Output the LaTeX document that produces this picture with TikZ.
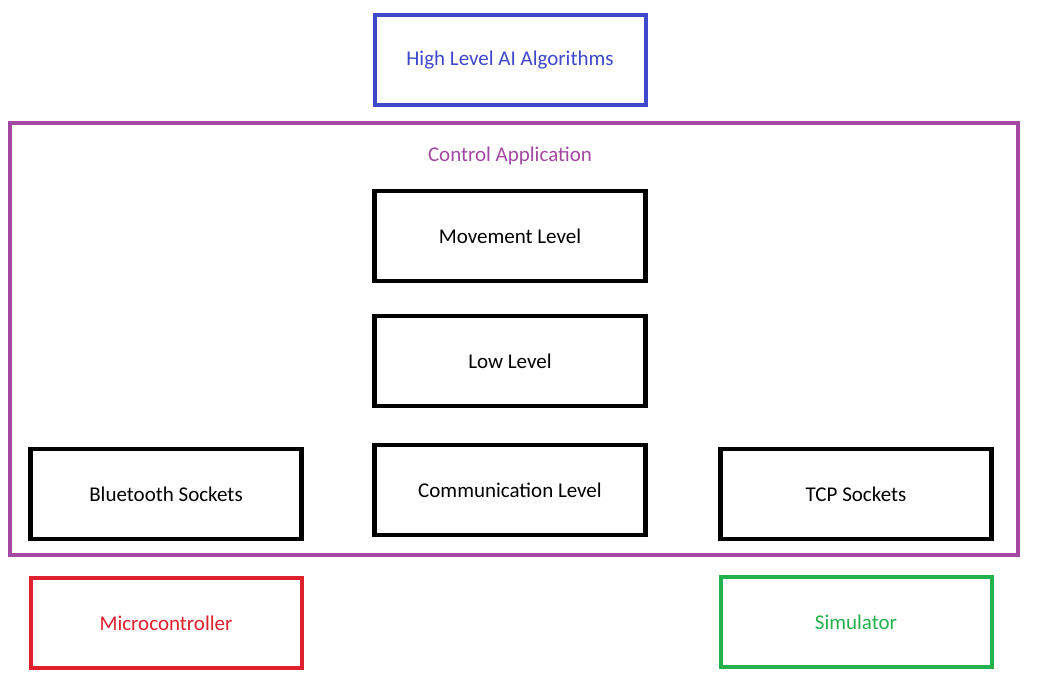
\documentclass[tikz,border=0pt]{standalone}
\usepackage{fontspec}
\setmainfont{Carlito}
\definecolor{aiblue}{HTML}{3F48CC}
\definecolor{appviolet}{HTML}{A349A4}
\definecolor{mcred}{HTML}{E0202C}
\definecolor{simgreen}{HTML}{22B14C}
\begin{document}
\begin{tikzpicture}[x=1pt,y=-1pt,
  box/.style={draw, rectangle, line width=4.5pt, minimum width=271pt, minimum height=90pt, inner sep=0pt, font=\fontsize{21}{24}\selectfont},
  lbl/.style={font=\fontsize{21}{24}\selectfont}]
\useasboundingbox (0,0) rectangle (1041,692);
\fill[white] (0,0) rectangle (1041,692);
\node[draw=appviolet, line width=4pt, rectangle, minimum width=1008pt, minimum height=432pt, inner sep=0pt] (app) at (514,339) {};
\node[lbl, text=appviolet] (apptitle) at (510,156) {Control Application};
\node[box, draw=aiblue, text=aiblue, line width=4pt] (ai) at (510,60) {High Level AI Algorithms};
\node[box] (move) at (510,236) {Movement Level};
\node[box] (low) at (510,361) {Low Level};
\node[box] (comm) at (510,490) {Communication Level};
\node[box] (bt) at (166,494) {Bluetooth Sockets};
\node[box] (tcp) at (856,494) {TCP Sockets};
\node[box, draw=mcred, text=mcred, line width=4pt] (mc) at (166,623) {Microcontroller};
\node[box, draw=simgreen, text=simgreen, line width=4pt] (sim) at (856,622) {Simulator};
\end{tikzpicture}
\end{document}
